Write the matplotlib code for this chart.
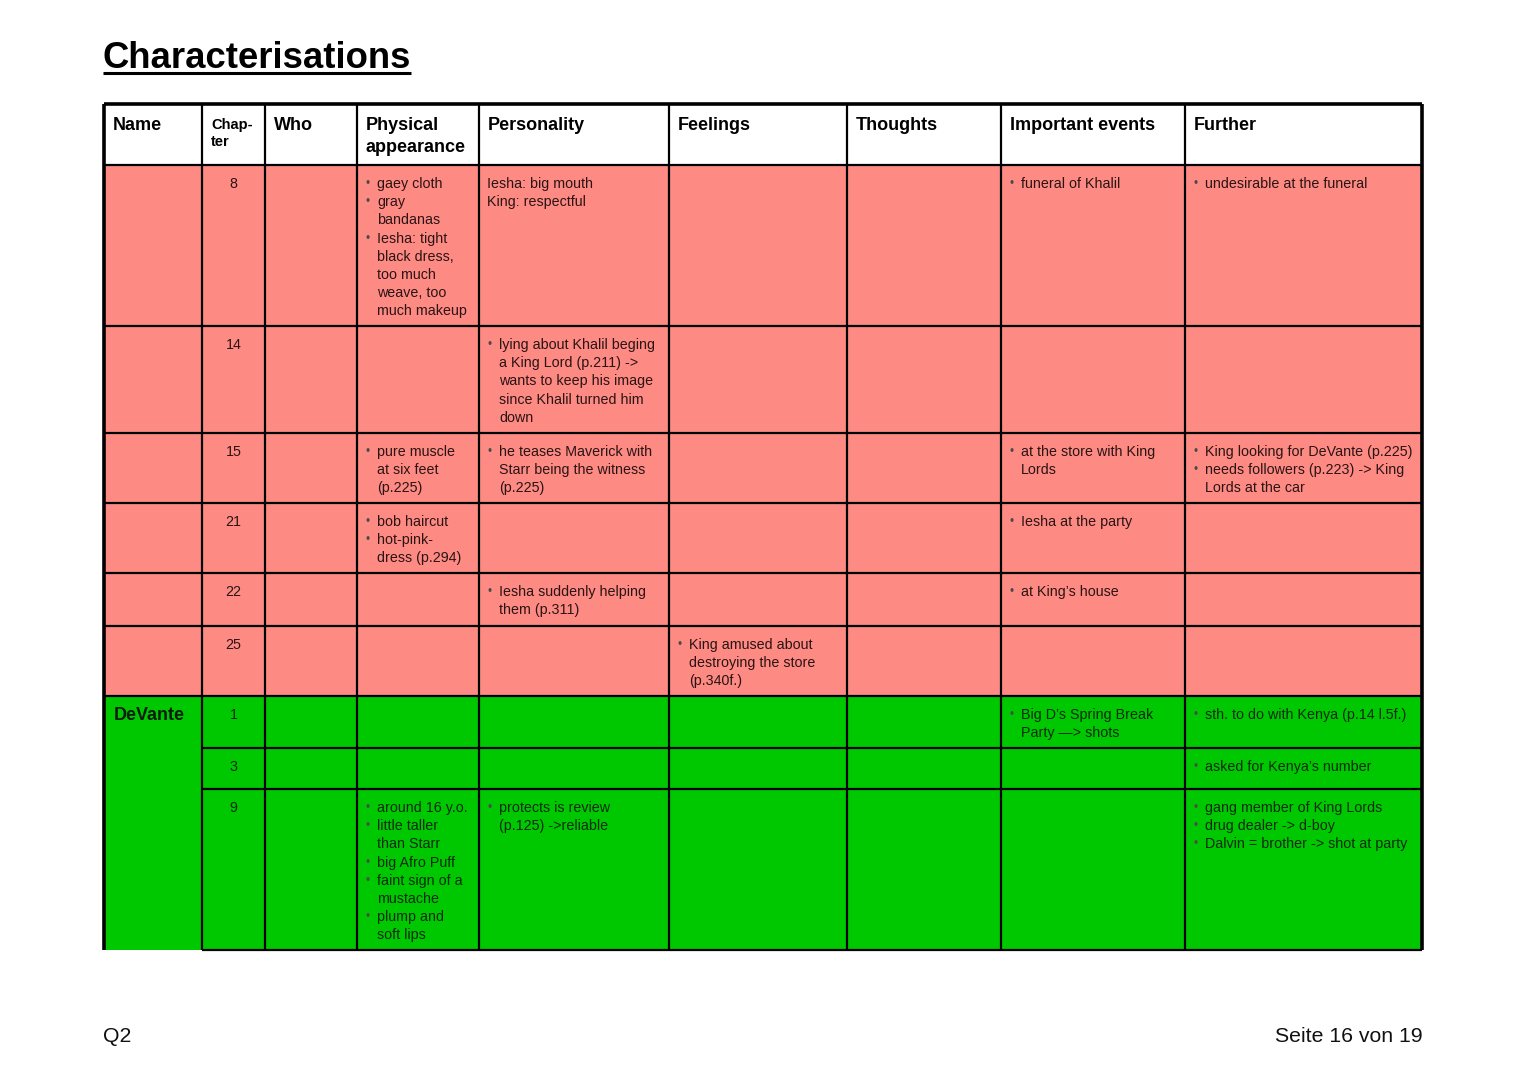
import matplotlib
matplotlib.use("Agg")
import matplotlib.pyplot as plt
from matplotlib.patches import Rectangle

plt.rcParams['font.family'] = ['Liberation Sans', 'DejaVu Sans']

# ---- data ----
title = "Characterisations"
headers = ["Name", "Chap-\nter", "Who", "Physical\nappearance", "Personality",
           "Feelings", "Thoughts", "Important events", "Further"]

names = ["", "", "", "", "", "", "DeVante", "", ""]
groups = ["red", "red", "red", "red", "red", "red", "green", "green", "green"]
chapters = ["8", "14", "15", "21", "22", "25", "1", "3", "9"]
who = [[] for _ in chapters]

# items starting with "• " are bullet points, others plain text
physical = [
    ["• gaey cloth", "• gray\nbandanas", "• Iesha: tight\nblack dress,\ntoo much\nweave, too\nmuch makeup"],
    [],
    ["• pure muscle\nat six feet\n(p.225)"],
    ["• bob haircut", "• hot-pink-\ndress (p.294)"],
    [],
    [],
    [],
    [],
    ["• around 16 y.o.", "• little taller\nthan Starr", "• big Afro Puff",
     "• faint sign of a\nmustache", "• plump and\nsoft lips"],
]
personality = [
    ["Iesha: big mouth\nKing: respectful"],
    ["• lying about Khalil beging\na King Lord (p.211) ->\nwants to keep his image\nsince Khalil turned him\ndown"],
    ["• he teases Maverick with\nStarr being the witness\n(p.225)"],
    [],
    ["• Iesha suddenly helping\nthem (p.311)"],
    [],
    [],
    [],
    ["• protects is review\n(p.125) ->reliable"],
]
feelings = [[], [], [], [], [],
            ["• King amused about\ndestroying the store\n(p.340f.)"],
            [], [], []]
thoughts = [[] for _ in chapters]
events = [
    ["• funeral of Khalil"],
    [],
    ["• at the store with King\nLords"],
    ["• Iesha at the party"],
    ["• at King’s house"],
    [],
    ["• Big D’s Spring Break\nParty —> shots"],
    [],
    [],
]
further = [
    ["• undesirable at the funeral"],
    [],
    ["• King looking for DeVante (p.225)", "• needs followers (p.223) -> King\nLords at the car"],
    [],
    [],
    [],
    ["• sth. to do with Kenya (p.14 l.5f.)"],
    ["• asked for Kenya’s number"],
    ["• gang member of King Lords", "• drug dealer -> d-boy", "• Dalvin = brother -> shot at party"],
]
footer_left = "Q2"
footer_right = "Seite 16 von 19"

# ---- layout (pixels) ----
col_edges = [104, 202, 265, 357, 479, 669, 847, 1001, 1185, 1422]
row_edges = [104, 165, 326, 433, 503, 573, 626, 696, 748, 789, 950]
colors = {"red": "#fe8a84", "green": "#00c800"}
line_h = 18.2

fig = plt.figure(figsize=(15.27, 10.8), dpi=100)
ax = fig.add_axes([0, 0, 1, 1])
ax.set_xlim(0, 1527)
ax.set_ylim(1080, 0)
ax.axis("off")

columns = [who, physical, personality, feelings, thoughts, events, further]

# backgrounds
ax.add_patch(Rectangle((col_edges[0], row_edges[0]), col_edges[-1] - col_edges[0],
                       row_edges[1] - row_edges[0], facecolor="white", edgecolor="none"))
for r in range(len(chapters)):
    y0, y1 = row_edges[r + 1], row_edges[r + 2]
    ax.add_patch(Rectangle((col_edges[0], y0), col_edges[-1] - col_edges[0], y1 - y0,
                           facecolor=colors[groups[r]], edgecolor="none"))

# header text
for c, h in enumerate(headers):
    x = col_edges[c] + 9
    if c == 1:
        for i, ln in enumerate(h.split("\n")):
            ax.text(x, row_edges[0] + 21 + i * 17, ln, fontsize=10.5, fontweight="bold",
                    va="center", ha="left", color="black")
    else:
        for i, ln in enumerate(h.split("\n")):
            ax.text(x, row_edges[0] + 22 + i * 22, ln, fontsize=13, fontweight="bold",
                    va="center", ha="left", color="black")


def draw_cell(items, x0, y0, color):
    k = 0
    for it in items:
        bullet = it.startswith("• ")
        body = it[2:] if bullet else it
        for j, ln in enumerate(body.split("\n")):
            yy = y0 + 19 + k * line_h
            if bullet and j == 0:
                ax.text(x0 + 8, yy, "•", fontsize=8.5, va="center", ha="left", color="#4a4a4a")
            ax.text(x0 + (20 if bullet else 8), yy, ln, fontsize=10.3, va="center",
                    ha="left", color=color)
            k += 1


for r in range(len(chapters)):
    y0 = row_edges[r + 1]
    tcol = "#2a1414" if groups[r] == "red" else "#0a2a0a"
    if names[r]:
        ax.text(col_edges[0] + 10, y0 + 20, names[r], fontsize=13, fontweight="bold",
                va="center", ha="left", color="#0a1a0a")
    ax.text((col_edges[1] + col_edges[2]) / 2, y0 + 19, chapters[r], fontsize=10.3,
            va="center", ha="center", color=tcol)
    for c, col in enumerate(columns):
        draw_cell(col[r], col_edges[c + 2], y0, tcol)

# grid lines; the name cell of the green group is merged
lw_in, lw_out = 1.6, 2.6
for i, y in enumerate(row_edges):
    below = groups[i - 1] if 1 <= i <= len(groups) else None
    above = groups[i - 2] if 2 <= i <= len(groups) + 1 else None
    merged = (above == "green" and below in ("green", None))
    x_start = col_edges[1] if merged else col_edges[0]
    lw = lw_out if i == 0 else lw_in
    ax.plot([x_start, col_edges[-1]], [y, y], color="black", lw=lw, solid_capstyle="butt")
for i, x in enumerate(col_edges):
    lw = lw_out if i in (0, len(col_edges) - 1) else lw_in
    ax.plot([x, x], [row_edges[0], row_edges[-1]], color="black", lw=lw, solid_capstyle="butt")

# title with underline
t = ax.text(103, 58, title, fontsize=26.3, fontweight="bold", va="center", ha="left")
fig.canvas.draw()
bb = t.get_window_extent(fig.canvas.get_renderer()).transformed(ax.transData.inverted())
ax.plot([bb.x0, bb.x1], [73, 73], color="black", lw=2.2, solid_capstyle="butt")

ax.text(103, 1036, footer_left, fontsize=15.3, va="center", ha="left", color="#111111")
ax.text(1423, 1036, footer_right, fontsize=15.3, va="center", ha="right", color="#111111")

fig.savefig("out.png", dpi=100, facecolor="white")
